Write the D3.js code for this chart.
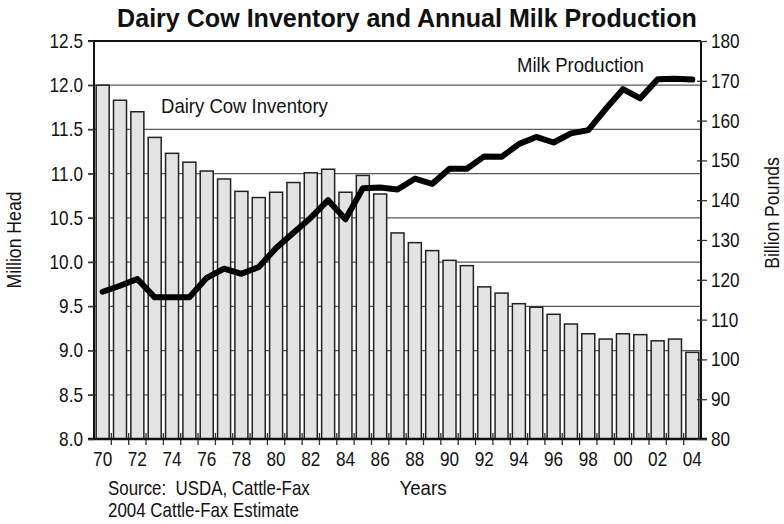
<!DOCTYPE html>
<html><head><meta charset="utf-8">
<script src="https://cdn.jsdelivr.net/npm/d3@7"></script>
<style>
body{margin:0;background:#fff;}
svg text{font-family:"Liberation Sans",Arial,sans-serif;fill:#111;}
</style></head>
<body><svg id="c" width="784" height="524"></svg>
<script>
const years = [1970,1971,1972,1973,1974,1975,1976,1977,1978,1979,1980,1981,1982,1983,1984,1985,1986,1987,1988,1989,1990,1991,1992,1993,1994,1995,1996,1997,1998,1999,2000,2001,2002,2003,2004];
const cows = [12.00,11.83,11.70,11.41,11.23,11.13,11.03,10.94,10.80,10.73,10.79,10.90,11.01,11.05,10.79,10.98,10.77,10.33,10.22,10.13,10.02,9.96,9.72,9.65,9.53,9.49,9.41,9.30,9.19,9.13,9.19,9.18,9.11,9.13,8.98];
const milk = [117.0,118.5,120.2,115.6,115.6,115.6,120.5,122.8,121.5,123.2,128.0,131.8,135.6,140.0,135.2,143.0,143.2,142.7,145.4,144.1,147.9,147.9,151.0,150.9,154.1,155.9,154.5,156.8,157.6,162.9,167.9,165.6,170.4,170.5,170.3];
const xLabelYears = [1970,1972,1974,1976,1978,1980,1982,1984,1986,1988,1990,1992,1994,1996,1998,2000,2002,2004];
const xLabels = ["70","72","74","76","78","80","82","84","86","88","90","92","94","96","98","00","02","04"];
const leftTicks = [8.0,8.5,9.0,9.5,10.0,10.5,11.0,11.5,12.0,12.5];
const rightTicks = [80,90,100,110,120,130,140,150,160,170,180];

const NARROW = 0.86;
const svg = d3.select("#c");
const L=94, R=701, T=41, B=439;
const x = d3.scaleBand().domain(years).range([L,R]).paddingInner(0.25).paddingOuter(0.125);
const yL = d3.scaleLinear().domain([8,12.5]).range([B,T]);
const yR = d3.scaleLinear().domain([80,180]).range([B,T]);

// gridlines
svg.append("g").selectAll("line").data(leftTicks.slice(1,-1)).join("line")
  .attr("x1",L-6).attr("x2",R).attr("y1",d=>yL(d)).attr("y2",d=>yL(d))
  .attr("stroke","#5a5a5a").attr("stroke-width",1.3);
svg.append("line").attr("x1",L-6).attr("x2",R).attr("y1",T).attr("y2",T).attr("stroke","#111").attr("stroke-width",2);

// bars
svg.append("g").selectAll("rect").data(years).join("rect")
  .attr("x",d=>x(d)).attr("width",x.bandwidth())
  .attr("y",(d,i)=>yL(cows[i])).attr("height",(d,i)=>B-yL(cows[i]))
  .attr("fill","#e3e3e3").attr("stroke","#222").attr("stroke-width",1.5);

// boundary ticks on x axis
const step = x.step();
const bounds = years.map(d=>x(d)-x.paddingInner()*step/2).slice(1);
svg.append("g").selectAll("line").data(bounds).join("line")
  .attr("x1",d=>d).attr("x2",d=>d).attr("y1",B-6).attr("y2",B+6)
  .attr("stroke","#333").attr("stroke-width",1.3);

// axes lines
svg.append("line").attr("x1",L).attr("x2",L).attr("y1",T).attr("y2",B+1).attr("stroke","#111").attr("stroke-width",2);
svg.append("line").attr("x1",R).attr("x2",R).attr("y1",T).attr("y2",B+1).attr("stroke","#111").attr("stroke-width",2);
svg.append("line").attr("x1",L-6).attr("x2",R+6).attr("y1",B).attr("y2",B).attr("stroke","#111").attr("stroke-width",2.5);

function narrowAxisText(g){
  g.selectAll("text").each(function(){
    const t=d3.select(this);
    const xv=+t.attr("x")||0;
    t.attr("x",xv/NARROW).attr("transform",`scale(${NARROW},1)`);
  });
}

// left axis
const axL = d3.axisLeft(yL).tickValues(leftTicks).tickFormat(d3.format(".1f")).tickSize(6).tickPadding(5);
const gL = svg.append("g").attr("transform",`translate(${L},0)`).call(axL);
gL.select(".domain").remove();
gL.selectAll("line").attr("stroke","#333").attr("stroke-width",1.3);
gL.selectAll("text").attr("font-size",20).attr("fill","#111");
narrowAxisText(gL);

// right axis
const axR = d3.axisRight(yR).tickValues(rightTicks).tickSize(6).tickPadding(4);
const gR = svg.append("g").attr("transform",`translate(${R},0)`).call(axR);
gR.select(".domain").remove();
gR.selectAll("line").attr("stroke","#333").attr("stroke-width",1.3).attr("x1",-4);
gR.selectAll("text").attr("font-size",20).attr("fill","#111");
narrowAxisText(gR);

// bottom labels
const axB = d3.axisBottom(x).tickValues(xLabelYears).tickFormat((d,i)=>xLabels[i]).tickSize(0).tickPadding(13);
const gB = svg.append("g").attr("transform",`translate(0,${B})`).call(axB);
gB.select(".domain").remove();
gB.selectAll("text").attr("font-size",20).attr("fill","#111");
narrowAxisText(gB);

// milk line
const line = d3.line().x((d,i)=>x(years[i])+x.bandwidth()/2).y(d=>yR(d));
svg.append("path").datum(milk).attr("d",line).attr("fill","none")
  .attr("stroke","#000").attr("stroke-width",6).attr("stroke-linejoin","round").attr("stroke-linecap","round");

// texts: placed with a horizontal squeeze to mimic a condensed face
function label(tx,ty,str,size,opts={}){
  const g=svg.append("g").attr("transform",`translate(${tx},${ty})${opts.rotate?` rotate(${opts.rotate})`:""}`);
  const t=g.append("text").attr("font-size",size).attr("text-anchor",opts.anchor||"start")
    .attr("font-weight",opts.bold?"bold":"normal").attr("xml:space","preserve").text(str);
  let s=NARROW;
  if(opts.width){ s=opts.width/t.node().getComputedTextLength(); }
  t.attr("transform",`scale(${s},1)`);
  return t;
}
label(407,27,"Dairy Cow Inventory and Annual Milk Production",26,{anchor:"middle",bold:true,width:580});
label(161,113,"Dairy Cow Inventory",20.5,{width:167});
label(517,72,"Milk Production",20.5,{width:127});
label(21,240,"Million Head",20.5,{anchor:"middle",rotate:-90});
label(779,213,"Billion Pounds",20.5,{anchor:"middle",rotate:-90});
label(423,495,"Years",20.5,{anchor:"middle",width:47});
label(108,495,"Source:  USDA, Cattle-Fax",20.5,{width:202});
label(108,517,"2004 Cattle-Fax Estimate",20.5,{width:191});
</script></body></html>
